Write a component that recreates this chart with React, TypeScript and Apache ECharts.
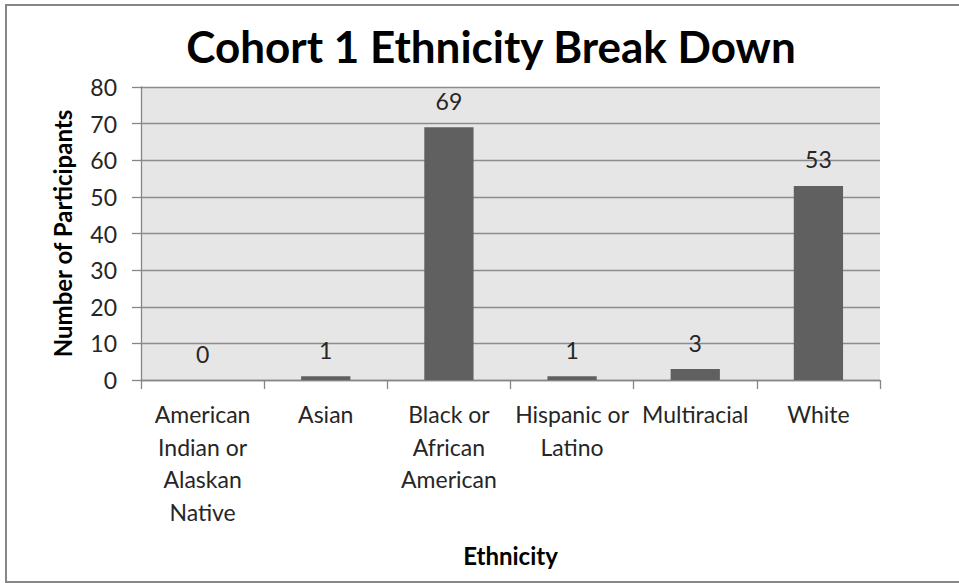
import React, { useEffect, useRef } from "react";
import * as echarts from "echarts";

const categories = [
  "American\nIndian or\nAlaskan\nNative",
  "Asian",
  "Black or\nAfrican\nAmerican",
  "Hispanic or\nLatino",
  "Multiracial",
  "White",
];
const values = [0, 1, 69, 1, 3, 53];
const titleText = "Cohort 1 Ethnicity Break Down";
const xName = "Ethnicity";
const yName = "Number of Participants";

const FONT = "Lato, 'Open Sans', sans-serif";

export default function App() {
  const ref = useRef<HTMLDivElement>(null);
  useEffect(() => {
    if (!ref.current) return;
    const chart = echarts.init(ref.current, undefined, { renderer: "svg" });
    chart.setOption({
      animation: false,
      backgroundColor: "#ffffff",
      title: {
        text: titleText,
        left: 486,
        top: 19,
        textAlign: "center",
        textStyle: { fontFamily: FONT, fontSize: 44, fontWeight: "bold", color: "#000" },
      },
      graphic: [
        {
          type: "rect",
          shape: { x: 6, y: 5, width: 970, height: 577 },
          style: { fill: "none", stroke: "#868686", lineWidth: 2 },
          silent: true,
        },
      ],
      grid: {
        left: 141,
        top: 87,
        right: 79,
        bottom: 203,
        show: true,
        backgroundColor: "#e6e6e6",
        borderWidth: 0,
      },
      xAxis: {
        type: "category",
        data: categories,
        name: xName,
        nameLocation: "middle",
        nameGap: 163,
        nameTextStyle: { fontFamily: FONT, fontSize: 24, fontWeight: "bold", color: "#000" },
        axisLine: { show: true, lineStyle: { color: "#868686", width: 1.3 } },
        axisTick: { show: true, length: 9, lineStyle: { color: "#868686", width: 1.3 } },
        axisLabel: {
          fontFamily: FONT,
          fontSize: 23,
          color: "#262626",
          lineHeight: 32.5,
          margin: 18,
          interval: 0,
        },
      },
      yAxis: {
        type: "value",
        min: 0,
        max: 80,
        interval: 10,
        name: yName,
        nameLocation: "middle",
        nameGap: 67,
        nameTextStyle: { fontFamily: FONT, fontSize: 24, fontWeight: "bold", color: "#000" },
        axisLine: { show: true, lineStyle: { color: "#868686", width: 1.3 } },
        axisTick: { show: true, length: 9, lineStyle: { color: "#868686", width: 1.3 } },
        axisLabel: { fontFamily: FONT, fontSize: 23, color: "#262626", margin: 24 },
        splitLine: { show: true, lineStyle: { color: "#8c8c8c", width: 1.3 } },
      },
      series: [
        {
          type: "bar",
          data: values,
          barWidth: "40%",
          itemStyle: { color: "#606060", borderWidth: 0 },
          label: {
            show: true,
            position: "top",
            distance: 15,
            fontFamily: FONT,
            fontSize: 23,
            color: "#262626",
          },
        },
      ],
    });
    return () => chart.dispose();
  }, []);
  return (
    <div
      ref={ref}
      style={{ position: "fixed", left: 0, top: 0, width: 959, height: 583 }}
    />
  );
}
